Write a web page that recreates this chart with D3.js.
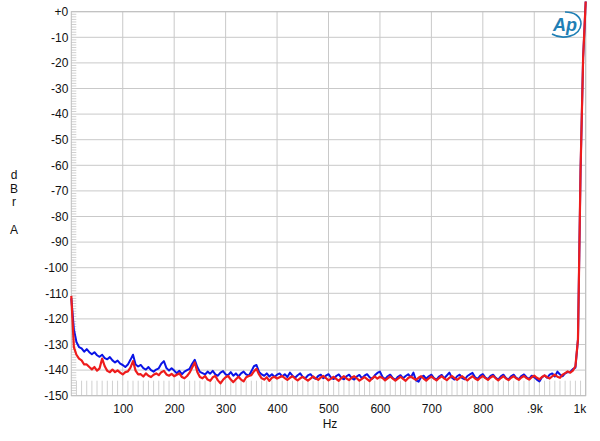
<!DOCTYPE html>
<html><head><meta charset="utf-8">
<script src="https://cdn.jsdelivr.net/npm/d3@7"></script>
<style>body{margin:0;background:#fff;} svg{display:block;font-family:"Liberation Sans",Arial,sans-serif;}</style>
</head><body><svg id="c" width="600" height="441"></svg>
<script>
// Frequencies: 0..1000 Hz in 5 Hz steps (201 points)
const freqStepHz = 5;
const yTickValues = [0,-10,-20,-30,-40,-50,-60,-70,-80,-90,-100,-110,-120,-130,-140,-150];
const yTickLabels = ["+0","-10","-20","-30","-40","-50","-60","-70","-80","-90","-100","-110","-120","-130","-140","-150"];
const xTickValues = [100,200,300,400,500,600,700,800,900,1000];
const xTickLabels = ["100","200","300","400","500","600","700","800",".9k","1k"];

const blueDb = [
-112,-124,-129,-131,-131.5,-132.8,-131.8,-133,-133.8,-133,
-134.2,-134.8,-134,-135.3,-135.8,-134.9,-136.2,-137,-136.3,-137.5,
-138,-138.8,-137.8,-136,-134,-137.8,-138.6,-138,-139.2,-139.8,
-138.8,-140,-140.6,-139.8,-139.3,-137.5,-136.5,-139.2,-140.2,-139.3,
-140.2,-141.2,-140.3,-141.6,-140.6,-140,-139.5,-137.5,-136,-138.8,
-140.7,-141.2,-141.7,-140.6,-141.4,-140.3,-141.7,-142.2,-141,-140.4,
-141.7,-142,-140.8,-142.2,-141.3,-142.5,-141.3,-140.6,-141.7,-142.2,
-140.5,-138.5,-138,-140.7,-141.7,-142.2,-141.3,-142.5,-141.6,-142.7,
-141.8,-141.3,-142.5,-141.6,-142.7,-141,-142.2,-143,-142,-141.3,
-142.7,-143.2,-142.1,-141.6,-142.8,-143.4,-142.3,-141.8,-143.2,-142.2,
-141.6,-142.9,-143.5,-142.3,-141.7,-143,-143.6,-142.4,-141.8,-143.1,
-143.7,-142.5,-141.9,-143.2,-142.2,-141.6,-142.8,-143.4,-142,-141.1,
-140.6,-142.7,-143.5,-142.4,-141.8,-143.1,-143.8,-142.6,-142,-143.2,
-142.3,-141.6,-142.8,-141,-144,-144.5,-142.8,-142.2,-143.4,-142.4,
-141.8,-143.1,-143.7,-142.5,-141.9,-143.2,-142.1,-141,-143,-143.7,
-142.4,-141.8,-143.1,-143.6,-142.3,-141.7,-141.1,-142.8,-143.4,-142.2,
-141.6,-142.9,-143.5,-142.3,-141.8,-143,-143.7,-142.4,-141.8,-143.1,
-143.6,-142.4,-141.8,-143,-143.5,-142.3,-141.7,-142.8,-143.4,-142.2,
-142.8,-143.7,-144.4,-142.8,-142.1,-143,-141.8,-141.3,-142.5,-140.6,
-141.7,-142.4,-141.3,-140.8,-140.7,-139.6,-139,-128,-62,-18,
4
];
const redDb = [
-111,-131,-134,-135.5,-136.2,-137.8,-137.8,-138.8,-139.7,-138.8,
-140.2,-139.3,-135.5,-138.5,-140.3,-140.8,-139.8,-140.8,-140.1,-141,
-141.7,-140.8,-140.5,-139,-136.5,-140.2,-141.7,-141.6,-142.5,-141.3,
-142.2,-142.7,-141.8,-141.3,-142,-140.8,-140.3,-141.7,-142.2,-141.5,
-142.4,-141.8,-141.3,-142.7,-143.2,-142.3,-141,-139,-137,-140.7,
-142.7,-143.2,-142.3,-143.7,-144.2,-142.8,-142.3,-144,-145.2,-143.8,
-142.8,-142.3,-143.7,-144.7,-143.6,-142.6,-143.7,-144.4,-142.8,-142.3,
-142,-140.5,-139.5,-141.7,-143.2,-143.7,-142.8,-144.2,-143,-142.6,
-143.3,-142.8,-142.3,-143.1,-143.8,-143,-142.4,-143.3,-144,-143.2,
-142.6,-143.4,-144.1,-143.3,-142.5,-143.2,-143.8,-142.9,-142.3,-143.1,
-144,-143.3,-142.6,-143.4,-144.2,-143.1,-142.4,-143.3,-143.9,-143,
-142.4,-143.2,-144.1,-143.4,-142.7,-143.5,-144.3,-143.2,-142.5,-143.3,
-142.6,-143.1,-144,-143.2,-142.5,-143.3,-144.1,-143.3,-142.6,-143.4,
-144.2,-143.1,-142.5,-143.2,-143.8,-143,-142.4,-143.3,-144.1,-143.2,
-142.5,-143.3,-144,-143.1,-142.4,-143.2,-143.9,-143,-142.3,-143.1,
-143.8,-143,-142.4,-143.2,-144,-143.1,-142.4,-143.3,-143.9,-143,
-142.3,-143.1,-143.8,-142.9,-142.3,-143.2,-144,-143.1,-142.4,-143.3,
-143.9,-143,-142.4,-143.2,-143.8,-142.9,-142.3,-143.1,-143.7,-142.8,
-142.2,-143,-143.6,-142.7,-142.1,-142.8,-143.3,-142.4,-141.8,-142.6,
-143,-141.8,-141.2,-140.5,-141,-140.2,-138.5,-128,-62,-18,
4
];

const svg = d3.select("#c");
const L = 71.3, R = 585.7, T = 11.7, B = 395.7;
const x = d3.scaleLinear().domain([0,1000]).range([L,R]);
const y = d3.scaleLinear().domain([-150,0]).range([B,T]);
const gridCol = "#c9c9c9";

// grid
svg.append("g").selectAll("line").data(yTickValues).join("line")
  .attr("x1",L).attr("x2",R).attr("y1",d=>y(d)).attr("y2",d=>y(d))
  .attr("stroke",gridCol).attr("stroke-width",1);
svg.append("g").selectAll("line").data(xTickValues).join("line")
  .attr("x1",d=>x(d)).attr("x2",d=>x(d)).attr("y1",T).attr("y2",B)
  .attr("stroke",gridCol).attr("stroke-width",1);

// minor ticks
const yMinor = d3.range(-150,0.1,1).filter(v=>v%10!==0);
svg.append("g").selectAll("line").data(yMinor).join("line")
  .attr("x1",L).attr("x2",L+5).attr("y1",d=>y(d)).attr("y2",d=>y(d))
  .attr("stroke","#d0d0d0").attr("stroke-width",1);
const xMinor = d3.range(10,1000,10).filter(v=>v%100!==0);
svg.append("g").selectAll("line").data(xMinor).join("line")
  .attr("x1",d=>x(d)).attr("x2",d=>x(d)).attr("y1",B-15).attr("y2",B)
  .attr("stroke","#d0d0d0").attr("stroke-width",1);

// border
svg.append("rect").attr("x",L).attr("y",T).attr("width",R-L).attr("height",B-T)
  .attr("fill","none").attr("stroke","#bdbdbd").attr("stroke-width",1);

// axes labels
const yAxis = d3.axisLeft(y).tickValues(yTickValues).tickSize(0).tickPadding(3)
  .tickFormat((d,i)=>yTickLabels[i]);
const gy = svg.append("g").attr("transform",`translate(${L},0)`).call(yAxis);
gy.select(".domain").remove();
gy.selectAll("text").attr("font-size",12).attr("fill","#111").attr("font-family","Liberation Sans, Arial, sans-serif");

const xAxis = d3.axisBottom(x).tickValues(xTickValues).tickSize(0).tickPadding(9)
  .tickFormat((d,i)=>xTickLabels[i]);
const gx = svg.append("g").attr("transform",`translate(0,${B})`).call(xAxis);
gx.select(".domain").remove();
gx.selectAll("text").attr("font-size",12).attr("fill","#111").attr("font-family","Liberation Sans, Arial, sans-serif");
gx.selectAll(".tick").filter(d=>d===1000).select("text").attr("text-anchor","end").attr("dx",0);

svg.append("text").attr("x",330).attr("y",428).attr("text-anchor","middle")
  .attr("font-size",12).attr("fill","#111").text("Hz");
[["d",179],["B",193],["r",206],["A",234]].forEach(([t,yy])=>{
  svg.append("text").attr("x",14).attr("y",yy).attr("text-anchor","middle")
    .attr("font-size",12).attr("fill","#111").text(t);
});

// lines
const freqs = blueDb.map((_,i)=>i*freqStepHz);
const line = d3.line().x((d,i)=>x(freqs[i])).y(d=>y(d));
svg.append("path").datum(blueDb).attr("d",line).attr("fill","none")
  .attr("stroke","#0a14e6").attr("stroke-width",2).attr("stroke-linejoin","round");
svg.append("path").datum(redDb).attr("d",line).attr("fill","none")
  .attr("stroke","#ee1c1c").attr("stroke-width",2.2).attr("stroke-linejoin","round");

// Ap logo
const logo = svg.append("g").attr("transform","translate(566,25)");
logo.append("path").attr("d","M -14 9 C -4 15, 14 12, 15 -1 C 15 -9, 8 -13, -1 -13")
  .attr("fill","none").attr("stroke","#1f7fb5").attr("stroke-width",1.6);
logo.append("text").attr("x",-1).attr("y",6).attr("text-anchor","middle")
  .attr("font-size",18).attr("font-style","italic").attr("font-weight","bold")
  .attr("fill","#1f7fb5").attr("font-family","Liberation Sans, Arial, sans-serif").text("Ap");
</script></body></html>
